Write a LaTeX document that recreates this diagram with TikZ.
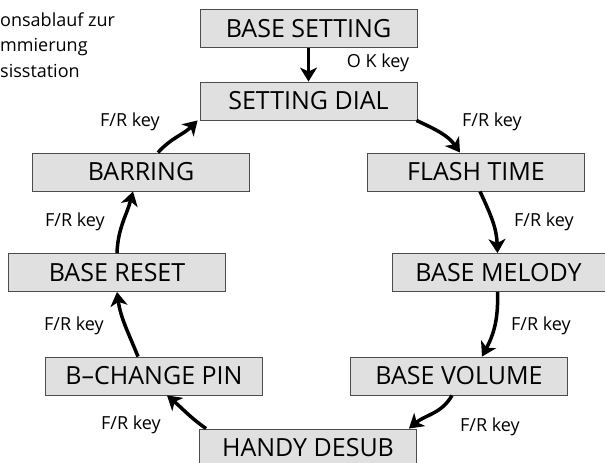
\documentclass[tikz,border=0pt]{standalone}
\usepackage{fontspec}
\setmainfont{Open Sans}
\usetikzlibrary{arrows.meta}

\begin{document}
\begin{tikzpicture}[x=1pt, y=-1pt, >={Stealth[length=14pt,width=17pt,inset=4pt]}]
\tikzstyle{box}=[draw=black!70, line width=0.9pt, fill=black!12, minimum width=217pt, minimum height=38pt, inner sep=0pt, font=\fontsize{25}{28}\selectfont]
\tikzstyle{key}=[font=\fontsize{18}{20}\selectfont, inner sep=0pt]
\tikzstyle{flow}=[->, line width=3.5pt]
\useasboundingbox (0,0) rectangle (605,463);

\node[anchor=base west, align=left, inner sep=0pt, font=\fontsize{18}{25.5}\selectfont] (title) at (0,77) {onsablauf zur\\mmierung\\sisstation};

\node[box] (bset) at (308.5,28.5) {BASE SETTING};
\node[box] (dial) at (308.5,101) {SETTING DIAL};
\node[box] (flash) at (476,172) {FLASH TIME};
\node[box] (barr) at (141,172) {BARRING};
\node[box, minimum width=213pt] (melody) at (498.5,272.5) {BASE MELODY};
\node[box] (reset) at (117,272.5) {BASE RESET};
\node[box] (volume) at (459,376) {BASE VOLUME};
\node[box] (pin) at (154,376) {B–CHANGE PIN};
\node[box] (handy) at (308,448) {HANDY DESUB};

\draw[flow] (bset) -- (dial);
\draw[flow] ([xshift=-1pt]dial.south east) to[out=-25, in=125] ([xshift=-16pt]flash.north);
\draw[flow] ([xshift=4pt]flash.south) to[out=-65, in=92] ([xshift=-1pt]melody.north);
\draw[flow] ([xshift=-1pt]melody.south) to[out=-88, in=62] ([xshift=23pt]volume.north);
\draw[flow] ([xshift=-7pt]volume.south) to[out=-120, in=40] ([xshift=-8pt]handy.north east);
\draw[flow] ([xshift=7pt]handy.north west) to[out=145, in=-40] ([xshift=13pt]pin.south);
\draw[flow] ([xshift=-16pt]pin.north) to[out=112, in=-82] (reset.south);
\draw[flow] ([xshift=0pt]reset.north) to[out=88, in=-105] ([xshift=-8pt]barr.south);
\draw[flow] ([xshift=17pt]barr.north) to[out=48, in=-135] ([xshift=-2pt]dial.south west);

\node[key] (k1) at (378,63) {O K key};
\node[key] (k2) at (492,122) {F/R key};
\node[key] (k3) at (544,222) {F/R key};
\node[key] (k4) at (541,326) {F/R key};
\node[key] (k5) at (490,427) {F/R key};
\node[key] (k6) at (131,425) {F/R key};
\node[key] (k7) at (74,326) {F/R key};
\node[key] (k8) at (75,222) {F/R key};
\node[key] (k9) at (130,122) {F/R key};
\end{tikzpicture}
\end{document}
